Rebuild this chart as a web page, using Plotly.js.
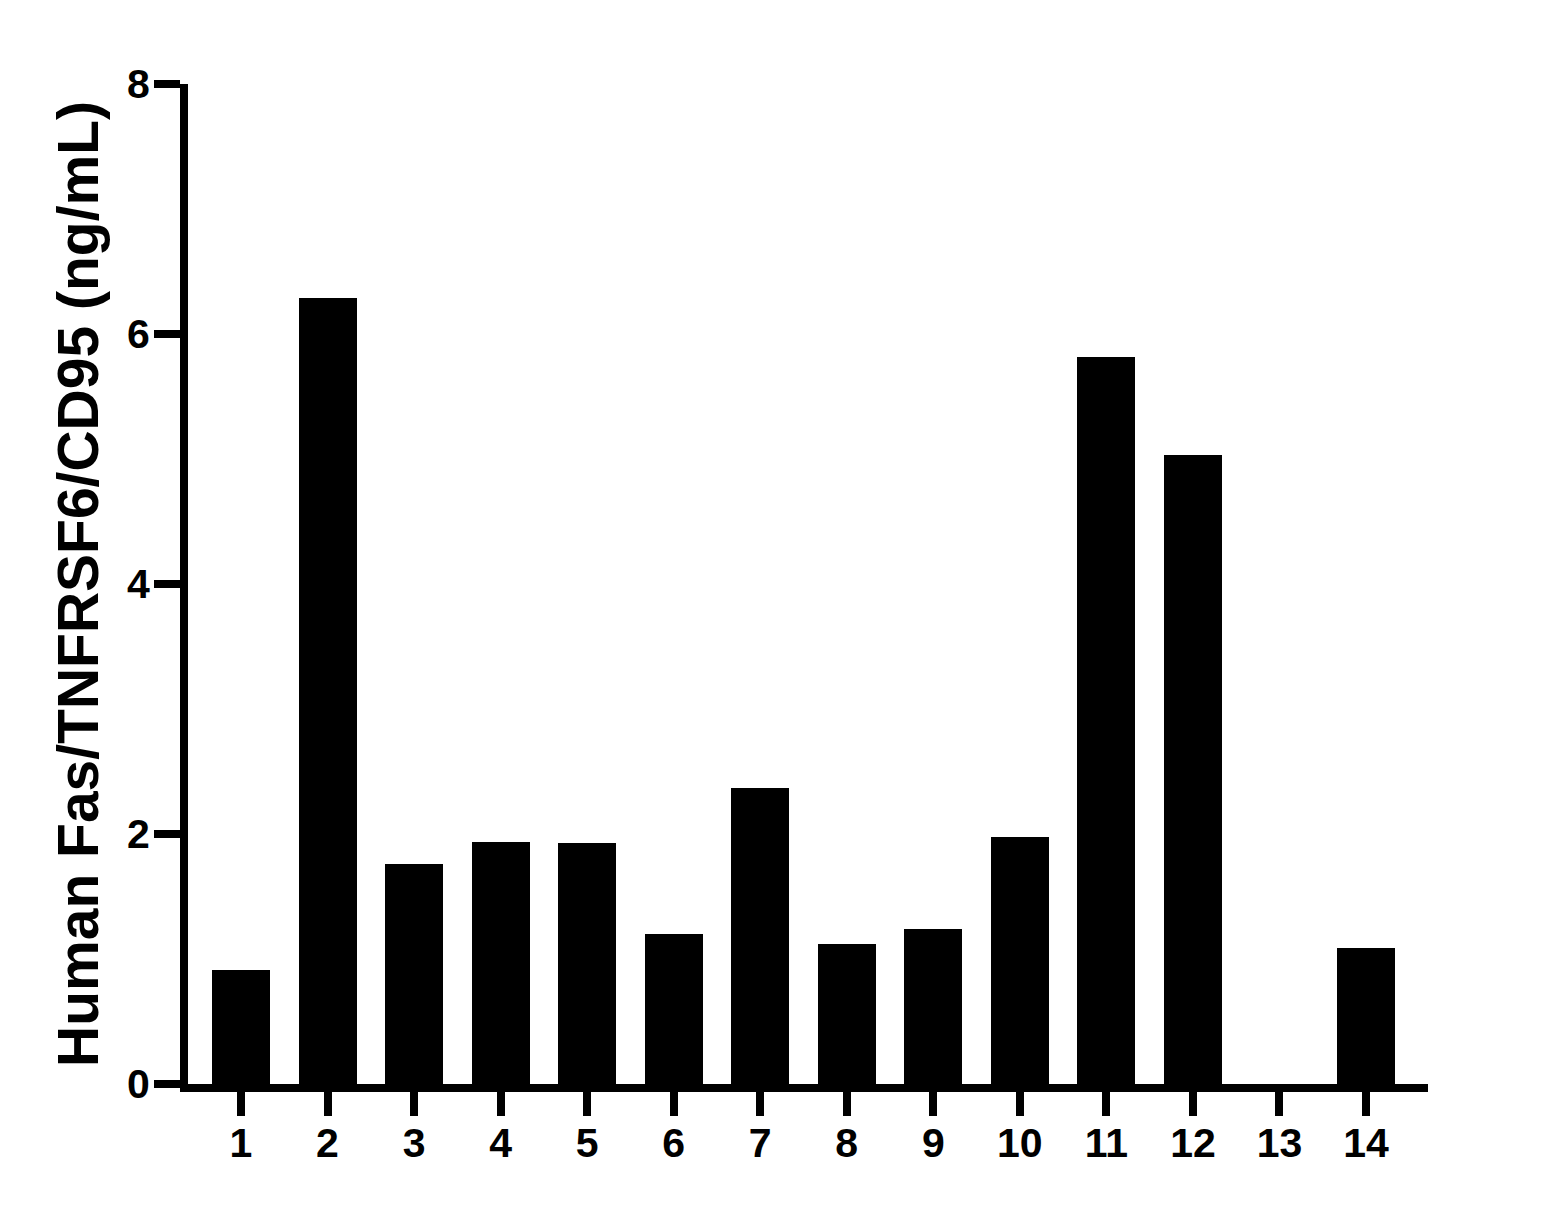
<!DOCTYPE html>
<html>
<head>
<meta charset="utf-8">
<script src="https://cdn.plot.ly/plotly-3.0.1.min.js"></script>
<style>html,body{margin:0;padding:0;background:#fff;}#chart{width:1563px;height:1208px;}</style>
</head>
<body>
<div id="chart"></div>
<script>
const samples = [1, 2, 3, 4, 5, 6, 7, 8, 9, 10, 11, 12, 13, 14];
const tickLabels = ["1","2","3","4","5","6","7","8","9","10","11","12","13","14"];
const fasValues = [0.91, 6.29, 1.76, 1.94, 1.93, 1.20, 2.37, 1.12, 1.24, 1.98, 5.82, 5.03, 0, 1.09];
const yTicks = [0, 2, 4, 6, 8];
const yTitle = "Human Fas/TNFRSF6/CD95 (ng/mL)";

const fontFam = "Liberation Sans, Arial, sans-serif";

Plotly.newPlot("chart", [{
  type: "bar",
  x: samples,
  y: fasValues,
  width: 0.67,
  marker: {color: "#000000", line: {width: 0}},
  hoverinfo: "x+y"
}], {
  width: 1563,
  height: 1208,
  margin: {l: 188, r: 135, t: 84, b: 124},
  paper_bgcolor: "#ffffff",
  plot_bgcolor: "#ffffff",
  showlegend: false,
  bargap: 0,
  xaxis: {
    range: [0.388, 14.716],
    tickmode: "array",
    tickvals: samples,
    ticktext: tickLabels,
    ticks: "outside",
    ticklen: 24,
    tickwidth: 8,
    tickcolor: "#000",
    ticklabelstandoff: -8,
    showline: true,
    linewidth: 8,
    linecolor: "#000",
    showgrid: false,
    zeroline: false,
    tickfont: {family: fontFam, size: 41, color: "#000", weight: "bold"}
  },
  yaxis: {
    range: [0, 8],
    tickmode: "array",
    tickvals: yTicks,
    ticktext: yTicks.map(String),
    ticks: "outside",
    ticklen: 26,
    tickwidth: 8,
    tickcolor: "#000",
    ticklabelstandoff: -4,
    showline: true,
    linewidth: 8,
    linecolor: "#000",
    showgrid: false,
    zeroline: false,
    tickfont: {family: fontFam, size: 41, color: "#000", weight: "bold"},
    title: {text: yTitle, font: {family: fontFam, size: 57, color: "#000", weight: "bold"}, standoff: 13}
  }
}, {displayModeBar: false, staticPlot: true});
</script>
</body>
</html>
